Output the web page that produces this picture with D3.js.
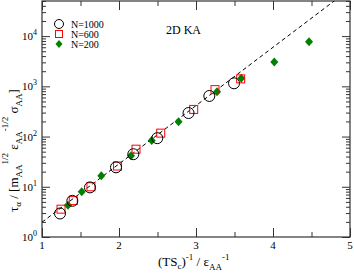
<!DOCTYPE html>
<html>
<head>
<meta charset="utf-8">
<script src="https://cdn.jsdelivr.net/npm/d3@7"></script>
<style>
  body { margin: 0; background: #fff; }
  svg text { font-family: "Liberation Serif", "Times New Roman", serif; }
</style>
</head>
<body>
<svg id="chart" width="354" height="273"></svg>
<script>
// data
let x1000 = [1.234, 1.394, 1.623, 1.961, 2.186, 2.497, 2.903, 3.173, 3.494];
let y1000 = [2.94, 5.25, 9.72, 24.4, 44.5, 92.9, 294, 643, 1148];

let x600 = [1.247, 1.406, 1.636, 1.981, 2.221, 2.542, 2.97, 3.247, 3.58];
let y600 = [3.58, 5.3, 10.0, 25.9, 56, 117, 347, 859, 1406];

let x200 = [1.338, 1.516, 1.77, 2.156, 2.425, 2.773, 3.273, 3.588, 4.017, 4.468];
let y200 = [4.27, 7.94, 16.5, 41.7, 83.2, 197, 783, 1445, 3048, 7727];

// dashed fit line end points
let fitX = [1, 5];
let fitY = [1.97, 86700];

let xTicks = [1, 2, 3, 4, 5];
let yTicks = [1, 10, 100, 1000, 10000];
let yExp = ["0", "1", "2", "3", "4"];

let legendNames = ["N=1000", "N=600", "N=200"];

let margin = {top: 1, right: 4, bottom: 36, left: 42};
let width = 354 - margin.left - margin.right;
let height = 273 - margin.top - margin.bottom;

let svg = d3.select("#chart");
let graph = svg.append("g")
    .attr("transform", `translate(${margin.left}, ${margin.top})`);

let x = d3.scaleLinear().domain([1, 5]).range([0, width]);
let y = d3.scaleLog().domain([1, 50000]).range([height, 0]);

let xMinor = d3.range(1.5, 5, 1);
let yMinor = [];
yTicks.forEach(t => {
    for (let k = 2; k <= 9; k++) {
        if (t * k <= 50000) yMinor.push(t * k);
    }
});

function styleAxis(g) {
    g.select(".domain").remove();
    g.selectAll("line").attr("stroke", "#333");
}

// ticks pointing inward on all four sides
graph.append("g").attr("transform", `translate(0, ${height})`)
    .call(d3.axisBottom(x).tickValues(xTicks).tickSize(-9).tickFormat("")).call(styleAxis);
graph.append("g").attr("transform", `translate(0, ${height})`)
    .call(d3.axisBottom(x).tickValues(xMinor).tickSize(-5).tickFormat("")).call(styleAxis);
graph.append("g")
    .call(d3.axisTop(x).tickValues(xTicks).tickSize(-9).tickFormat("")).call(styleAxis);
graph.append("g")
    .call(d3.axisTop(x).tickValues(xMinor).tickSize(-5).tickFormat("")).call(styleAxis);

graph.append("g")
    .call(d3.axisLeft(y).tickValues(yTicks).tickSize(-8).tickFormat("")).call(styleAxis);
graph.append("g")
    .call(d3.axisLeft(y).tickValues(yMinor).tickSize(-4).tickFormat("")).call(styleAxis);
graph.append("g").attr("transform", `translate(${width}, 0)`)
    .call(d3.axisRight(y).tickValues(yTicks).tickSize(-8).tickFormat("")).call(styleAxis);
graph.append("g").attr("transform", `translate(${width}, 0)`)
    .call(d3.axisRight(y).tickValues(yMinor).tickSize(-4).tickFormat("")).call(styleAxis);

graph.append("rect")
    .attr("x", 0).attr("y", 0)
    .attr("width", width).attr("height", height)
    .attr("fill", "none")
    .attr("stroke", "#333")
    .attr("stroke-width", 1.2);

// tick labels
graph.append("g").selectAll("text")
    .data(xTicks)
    .enter().append("text")
    .attr("x", d => x(d))
    .attr("y", height + 12)
    .style("text-anchor", "middle")
    .style("font-size", "11px")
    .text(d => d);

let yLab = graph.append("g").selectAll("text")
    .data(yTicks)
    .enter().append("text")
    .attr("x", -5)
    .attr("y", d => y(d) + 4)
    .style("text-anchor", "end")
    .style("font-size", "11px");
yLab.append("tspan").text("10");
yLab.append("tspan").attr("dy", -5).style("font-size", "8px").text((d, i) => yExp[i]);

// dashed fit line
svg.append("clipPath").attr("id", "clip")
    .append("rect").attr("width", width).attr("height", height);

let fitLine = d3.line()
    .x(d => x(d[0]))
    .y(d => y(d[1]));

graph.append("path")
    .datum(d3.zip(fitX, fitY))
    .attr("clip-path", "url(#clip)")
    .attr("d", fitLine)
    .attr("fill", "none")
    .attr("stroke", "black")
    .attr("stroke-width", 1)
    .attr("stroke-dasharray", "4,3");

// markers
let diamond = "M0,-4.5L4,0L0,4.5L-4,0Z";

graph.append("g").selectAll("path")
    .data(d3.zip(x200, y200))
    .enter().append("path")
    .attr("transform", d => `translate(${x(d[0])}, ${y(d[1])})`)
    .attr("d", diamond)
    .attr("fill", "#008000");

graph.append("g").selectAll("rect")
    .data(d3.zip(x600, y600))
    .enter().append("rect")
    .attr("x", d => x(d[0]) - 4)
    .attr("y", d => y(d[1]) - 4)
    .attr("width", 8).attr("height", 8)
    .attr("fill", "none")
    .attr("stroke", "red")
    .attr("stroke-width", 1);

graph.append("g").selectAll("circle")
    .data(d3.zip(x1000, y1000))
    .enter().append("circle")
    .attr("cx", d => x(d[0]))
    .attr("cy", d => y(d[1]))
    .attr("r", 5.5)
    .attr("fill", "none")
    .attr("stroke", "black")
    .attr("stroke-width", 1);

// legend
let legend = graph.append("g").attr("transform", "translate(17, 23)");
legend.append("circle").attr("cx", 0).attr("cy", 0).attr("r", 4.5)
    .attr("fill", "none").attr("stroke", "black");
legend.append("rect").attr("x", -3.5).attr("y", 6.5).attr("width", 7).attr("height", 7)
    .attr("fill", "none").attr("stroke", "red");
legend.append("path").attr("transform", "translate(0, 20)").attr("d", "M0,-4L3.5,0L0,4L-3.5,0Z")
    .attr("fill", "#008000");
legend.selectAll("text")
    .data(legendNames)
    .enter().append("text")
    .attr("x", 12)
    .attr("y", (d, i) => i * 10 + 3.5)
    .style("font-size", "10px")
    .text(d => d);

graph.append("text")
    .attr("x", 124)
    .attr("y", 33)
    .style("font-size", "12px")
    .text("2D KA");

// x axis label
let xTitle = svg.append("text")
    .attr("x", 158)
    .attr("y", 266)
    .style("font-size", "13px");
xTitle.append("tspan").text("(TS");
xTitle.append("tspan").attr("dy", 3).style("font-size", "9px").text("c");
xTitle.append("tspan").attr("dy", -3).text(")");
xTitle.append("tspan").attr("dy", -6).style("font-size", "9px").text("-1");
xTitle.append("tspan").attr("dy", 6).text(" / ε");
xTitle.append("tspan").attr("dy", 4).style("font-size", "9px").text("AA");
xTitle.append("tspan").attr("dy", -10).style("font-size", "9px").text("-1");

// y axis label
let yTitle = svg.append("text")
    .attr("transform", "translate(18, 212) rotate(-90)")
    .style("font-size", "13px");
yTitle.append("tspan").text("τ");
yTitle.append("tspan").attr("dy", 3).style("font-size", "9px").text("α");
yTitle.append("tspan").attr("dy", -3).text(" / [m");
yTitle.append("tspan").attr("dy", 4).style("font-size", "9px").text("AA");
yTitle.append("tspan").attr("dy", -14).style("font-size", "9px").text("1/2");
yTitle.append("tspan").attr("dy", 10).text(" ε");
yTitle.append("tspan").attr("dy", 4).style("font-size", "9px").text("AA");
yTitle.append("tspan").attr("dy", -14).style("font-size", "9px").text("-1/2");
yTitle.append("tspan").attr("dy", 10).text(" σ");
yTitle.append("tspan").attr("dy", 4).style("font-size", "9px").text("AA");
yTitle.append("tspan").attr("dy", -4).text("]");
</script>
</body>
</html>
